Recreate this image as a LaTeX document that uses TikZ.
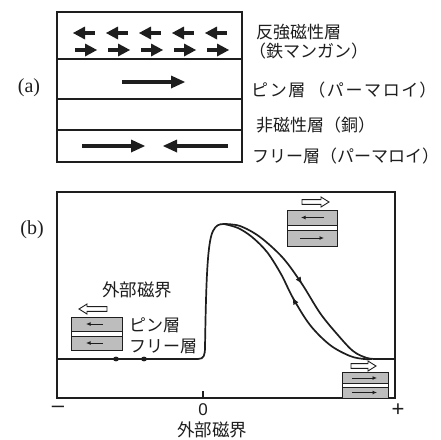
\documentclass[tikz,border=0pt]{standalone}
\usepackage{fontspec}
\setmainfont{Liberation Serif}
\newfontfamily\jp{Noto Sans CJK JP}
\newfontfamily\axisfont{Liberation Sans}
\usetikzlibrary{arrows.meta}
\definecolor{ink}{HTML}{1E1E1E}
\definecolor{layergray}{HTML}{BDBDBD}
\tikzset{
  frame/.style={draw=ink, line width=1.5pt},
  thinarrow/.style={draw=ink, line width=0.9pt, -{Latex[length=4.5pt,width=4pt]}},
  curve/.style={draw=ink, line width=1.7pt},
  lbl/.style={inner sep=0pt, anchor=west, font=\jp\fontsize{17}{19}\selectfont, text=ink},
  grayband/.style={draw=ink, line width=0.9pt, fill=layergray},
  % hollow arrow pointing right, starting at the origin, length #1
  hollow/.pic={\draw[ink, line width=0.9pt, fill=white]
     (0,-2.4) -- (#1-8,-2.4) -- (#1-8,-5) -- (#1,0) -- (#1-8,5) -- (#1-8,2.4) -- (0,2.4) -- cycle;},
}
% magnetisation arrows: tail x, tip x, y, head length, shaft half-thickness, head half-width
\newcommand{\magright}[6]{%
  \fill[ink] (#1,#3-#5) rectangle (#2-#4+1,#3+#5);
  \fill[ink] (#2-#4,#3-#6) -- (#2,#3) -- (#2-#4,#3+#6) -- cycle;}
\newcommand{\magleft}[6]{%
  \fill[ink] (#1,#3-#5) rectangle (#2+#4-1,#3+#5);
  \fill[ink] (#2+#4,#3-#6) -- (#2,#3) -- (#2+#4,#3+#6) -- cycle;}
\begin{document}
\begin{tikzpicture}[x=1pt,y=-1pt]
\useasboundingbox (0,0) rectangle (441,439);
\clip (0,0) rectangle (441,439);
\fill[white] (0,0) rectangle (441,439);

%% ---------- (a) layer stack ----------
\node[inner sep=0pt, font=\fontsize{20}{22}\selectfont, text=ink] (la) at (29,88) {(a)};
\draw[frame] (57,12) rectangle (242,162);
\draw[frame] (57,59) -- (242,59);
\draw[frame] (57,99) -- (242,99);
\draw[frame] (57,130) -- (242,130);

% antiferromagnetic layer: alternating moments
\foreach \x in {73,106,139,172,205}{
  \magleft{\x+22}{\x}{33}{12}{1.7}{6.5}
  \magright{\x+2}{\x+24}{50}{12}{1.7}{6.5}
}
% pinned layer
\magright{122}{185}{82}{14}{1.6}{6.5}
% free layer: two possible directions
\magright{82}{145}{146}{14}{1.6}{6.5}
\magleft{228}{163}{146}{14}{1.6}{6.5}

\node[lbl] (afm)  at (256,32)  {反強磁性層};
\node[lbl] (femn) at (249,51)  {（鉄マンガン）};
\node[lbl] (pin)  at (251,90)  {ピ\hspace{1.6pt}ン\hspace{1.6pt}層\hspace{3pt}（\hspace{1.6pt}パ\hspace{1.6pt}ー\hspace{1.6pt}マ\hspace{1.6pt}ロ\hspace{1.6pt}イ\hspace{1pt}）};
\node[lbl] (cu)   at (256,125) {非磁性層（銅）};
\node[lbl] (free) at (252,156) {フリー層（パーマロイ）};

%% ---------- (b) resistance curve ----------
\node[inner sep=0pt, font=\fontsize{20}{22}\selectfont, text=ink] (lb) at (32,230) {(b)};
\draw[frame] (57,192) rectangle (395,398);
\draw[frame] (203,398) -- (203,391);

% rising branch from the flat low level to the peak
\draw[curve] (57,359) -- (198,359)
   .. controls (204,359) and (205,355) .. (205,347)
   .. controls (206,290) and (207,242) .. (213,231)
   .. controls (216,225) and (219,224) .. (224,224);
% outer descending branch
\draw[curve] plot[smooth, tension=0.55] coordinates
   {(224,224) (240,226) (260,237) (283,258) (302,284) (320,313) (337,334) (353,351) (367,358) (378,359)}
   -- (395,359);
% inner returning branch
\draw[curve] plot[smooth, tension=0.55] coordinates
   {(224,224) (238,228) (252,237) (267,252) (281,274) (293,298) (310,325) (330,345) (350,356) (364,359) (372,359)};

% direction marks on the branches
\draw[ink, line width=1.2pt, -{Latex[length=7pt,width=6pt]}] (298.5,278.5) -- (302,284);
\draw[ink, line width=1.2pt, -{Latex[length=7pt,width=6pt]}] (296,304) -- (292.5,297.5);
\fill[ink] (116,359) ellipse (3 and 2.4);
\fill[ink] (144,359) ellipse (3 and 2.4);

% axis labels
\node[inner sep=0pt, font=\axisfont\fontsize{22}{22}\selectfont, text=ink] (minus) at (58,409) {–};
\node[inner sep=0pt, font=\axisfont\fontsize{17}{18}\selectfont, text=ink] (zero)  at (203,410) {0};
\node[inner sep=0pt, font=\axisfont\fontsize{22}{22}\selectfont, text=ink] (plus)  at (398,410) {+};
\node[inner sep=0pt, font=\jp\fontsize{17.5}{18}\selectfont, text=ink] (haxis) at (212,430) {外部磁界};

% inset: field to the left, both layers parallel
\node[inner sep=0pt, font=\jp\fontsize{17.5}{19}\selectfont, text=ink] (hleft) at (137,290) {外部磁界};
\pic[xscale=-1] at (107,309) {hollow=28};
\draw[ink, line width=0.9pt, fill=white] (71,317) rectangle (122,350);
\draw[grayband] (71,317) rectangle (122,331);
\draw[grayband] (71,336) rectangle (122,350);
\draw[thinarrow] (103,324) -- (86,324);
\draw[thinarrow] (103,343) -- (86,343);
\node[lbl] (pinL)  at (129,325) {ピン層};
\node[lbl] (freeL) at (129,346) {フリー層};

% inset: small field to the right, antiparallel
\pic at (302,202) {hollow=27};
\draw[ink, line width=0.9pt, fill=white] (287,210) rectangle (337,246);
\draw[grayband] (287,210) rectangle (337,225);
\draw[grayband] (287,230) rectangle (337,246);
\draw[thinarrow] (324,217.5) -- (301,217.5);
\draw[thinarrow] (300,238) -- (324,238);

% inset: large field to the right, parallel
\pic at (351,366) {hollow=25};
\draw[ink, line width=0.9pt, fill=white] (342,372) rectangle (388,398);
\draw[grayband] (342,372) rectangle (388,383.5);
\draw[grayband] (342,387) rectangle (388,398);
\draw[thinarrow] (352,378) -- (377,378);
\draw[thinarrow] (352,392.5) -- (377,392.5);
\end{tikzpicture}
\end{document}
